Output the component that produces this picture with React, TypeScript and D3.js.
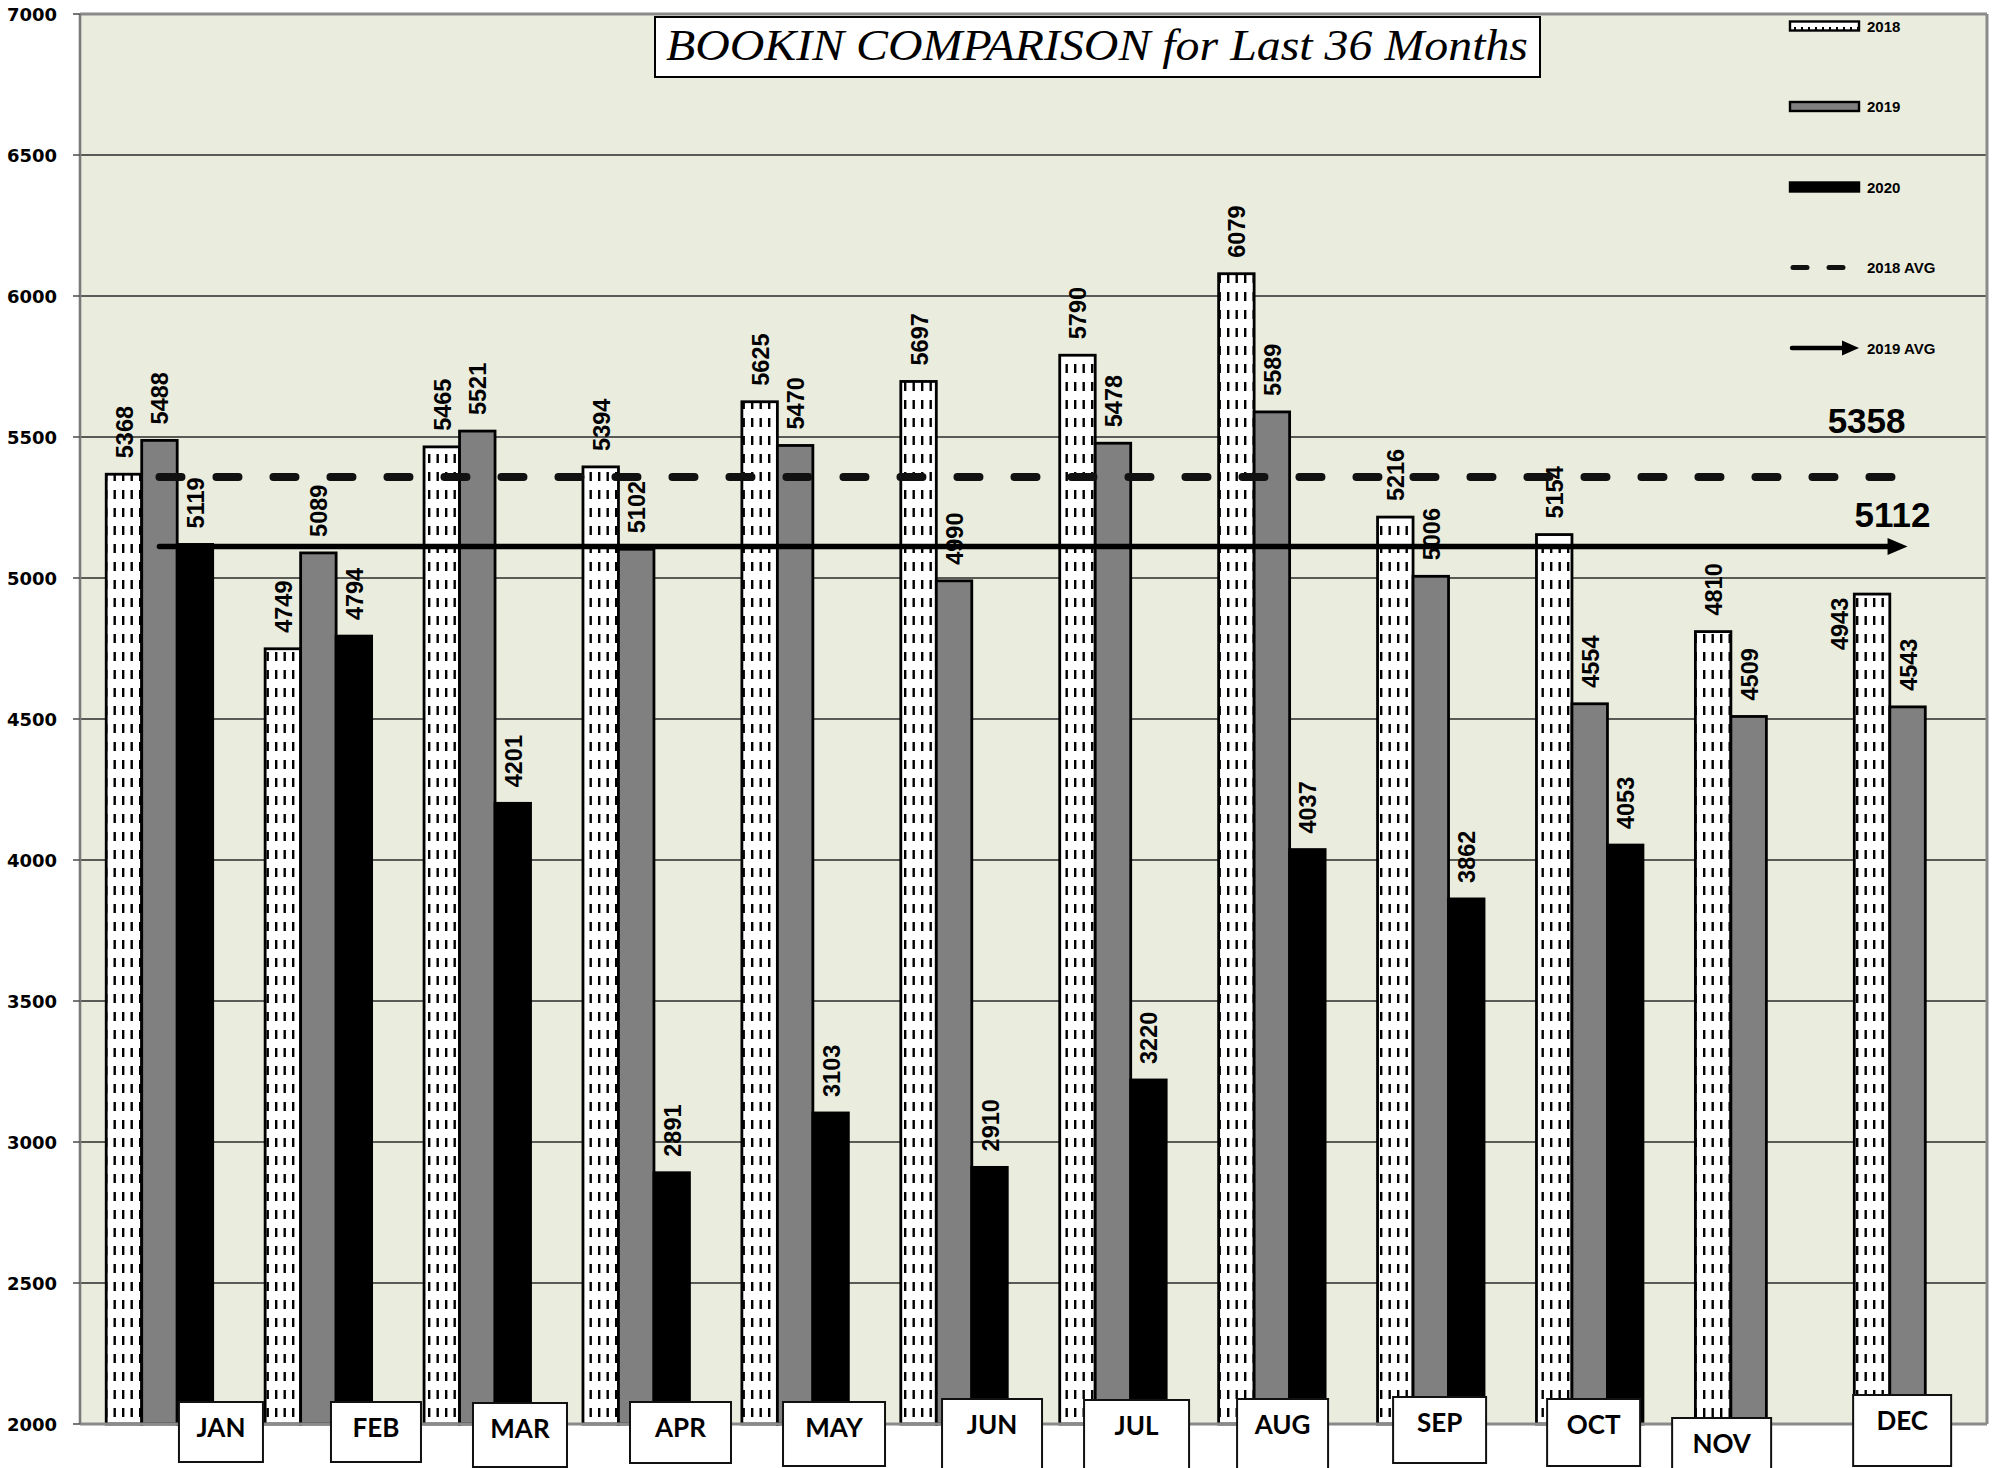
import React, { useEffect } from 'react';
import * as d3 from 'd3';

// chart values
const months = ['JAN', 'FEB', 'MAR', 'APR', 'MAY', 'JUN', 'JUL', 'AUG', 'SEP', 'OCT', 'NOV', 'DEC'];
const seriesKeys = ['2018', '2019', '2020'];
const bookins2018 = [5368, 4749, 5465, 5394, 5625, 5697, 5790, 6079, 5216, 5154, 4810, 4943];
const bookins2019 = [5488, 5089, 5521, 5102, 5470, 4990, 5478, 5589, 5006, 4554, 4509, 4543];
const bookins2020 = [5119, 4794, 4201, 2891, 3103, 2910, 3220, 4037, 3862, 4053];
const avg2018 = 5358;
const avg2019 = 5112;
const yTicks = [2000, 2500, 3000, 3500, 4000, 4500, 5000, 5500, 6000, 6500, 7000];
const legendLabels = ['2018', '2019', '2020', '2018 AVG', '2019 AVG'];

// hand placed month label boxes: [dx of box centre from group centre, top, width, height]
const monthBoxLayout = [
  [61.5, 1402, 84, 60], [57.6, 1402, 90, 60], [42.7, 1403, 94, 64], [44.3, 1402, 101, 61],
  [38.9, 1402, 102, 64], [38, 1399, 100, 90], [23.6, 1400, 105, 90], [10.7, 1399, 91, 90],
  [8.8, 1397, 93, 66], [3.9, 1399, 93, 67], [-27, 1418, 99, 80], [-5.4, 1395, 98, 71],
];
// one label Excel pushed aside of its bar
const labelNudge: Record<string, [number, number]> = { 'DEC-2018': [-33, 72] };

const W = 2000;
const H = 1468;
const margin = { top: 14, right: 13, bottom: 44, left: 80 };
const plotR = W - margin.right;
const plotB = H - margin.bottom;

const barFont = '"Liberation Sans", Arial, sans-serif';

const App = () => {
  useEffect(() => {
    document.body.style.margin = '0';
    document.body.style.overflow = 'hidden';
  }, []);

  const x0 = d3.scaleBand<string>()
    .domain(months)
    .range([margin.left, plotR])
    .paddingInner(0.33)
    .paddingOuter(0.165);

  const x1 = d3.scaleBand<string>()
    .domain(seriesKeys)
    .range([0, x0.bandwidth()]);

  const y = d3.scaleLinear().domain([2000, 7000]).range([plotB, margin.top]);

  const seriesData: Record<string, number[]> = {
    '2018': bookins2018,
    '2019': bookins2019,
    '2020': bookins2020,
  };
  const fills: Record<string, string> = { '2018': 'url(#dash2018)', '2019': '#808080', '2020': '#000' };

  const bars = seriesKeys.flatMap(key =>
    seriesData[key].map((v, i) => ({ key, month: months[i], value: v }))
  );

  const center = (m: string) => (x0(m) as number) + x0.bandwidth() / 2;
  const xStart = center(months[0]);
  const xEnd = center(months[months.length - 1]);

  const legendY = d3.scalePoint<string>().domain(legendLabels).range([26, 348]);
  const lgX = 1790;
  const lgW = 69;

  return (
    <svg width={W} height={H} style={{ position: 'absolute', left: 0, top: 0, background: '#fff' }}>
      <defs>
        <pattern id="dash2018" patternUnits="userSpaceOnUse" width="17" height="18">
          <rect width="17" height="18" fill="#fff" />
          <rect x="3" y="4" width="2.4" height="9" fill="#000" />
          <rect x="11.5" y="4" width="2.4" height="9" fill="#000" />
        </pattern>
        <pattern id="dashLegend" patternUnits="userSpaceOnUse" width="7" height="9">
          <rect width="7" height="9" fill="#fff" />
          <rect x="2" y="0" width="2" height="4" fill="#000" />
        </pattern>
      </defs>

      {/* plot background */}
      <rect x={margin.left} y={margin.top} width={plotR - margin.left} height={plotB - margin.top} fill="#EAEDDE" />

      {/* gridlines */}
      {yTicks.slice(1, -1).map(t => (
        <line key={t} x1={margin.left} x2={plotR} y1={y(t)} y2={y(t)} stroke="#2a2a2a" strokeWidth={1.6} />
      ))}

      {/* bars */}
      {bars.map(d => (
        <rect
          key={d.key + d.month}
          x={(x0(d.month) as number) + (x1(d.key) as number)}
          y={y(d.value)}
          width={x1.bandwidth()}
          height={plotB - y(d.value)}
          fill={fills[d.key]}
          stroke="#000"
          strokeWidth={2.8}
        />
      ))}

      {/* value labels */}
      {bars.map(d => {
        const [ndx, ndy] = labelNudge[d.month + '-' + d.key] || [0, 0];
        const bx = (x0(d.month) as number) + (x1(d.key) as number) + x1.bandwidth() / 2 + 1 + ndx;
        const by = y(d.value) - 16 + ndy;
        return (
          <text
            key={'l' + d.key + d.month}
            transform={`translate(${bx},${by}) rotate(-90)`}
            textAnchor="start"
            dominantBaseline="central"
            fontFamily={barFont}
            fontWeight="bold"
            fontSize={23.5}
            fill="#000"
          >
            {d.value}
          </text>
        );
      })}

      {/* averages */}
      <line
        x1={xStart} x2={xEnd} y1={y(avg2018)} y2={y(avg2018)}
        stroke="#111" strokeWidth={8} strokeLinecap="round" strokeDasharray="22 35"
      />
      <line x1={xStart} x2={xEnd - 18} y1={y(avg2019)} y2={y(avg2019)} stroke="#000" strokeWidth={5.5} strokeLinecap="round" />
      <path
        d={`M${xEnd},${y(avg2019)} L${xEnd - 20},${y(avg2019) - 8.5} L${xEnd - 20},${y(avg2019) + 8.5} Z`}
        fill="#000"
      />
      <text x={xEnd - 2} y={y(avg2018) - 44} textAnchor="end" fontFamily={barFont} fontWeight="bold" fontSize={35}>
        {avg2018}
      </text>
      <text x={xEnd + 23} y={y(avg2019) - 19} textAnchor="end" fontFamily={barFont} fontWeight="bold" fontSize={35}>
        {avg2019}
      </text>

      {/* frame and axis */}
      <line x1={margin.left} x2={plotR} y1={margin.top} y2={margin.top} stroke="#8a8a8a" strokeWidth={3} />
      <line x1={plotR} x2={plotR} y1={margin.top} y2={plotB} stroke="#8a8a8a" strokeWidth={3} />
      <line x1={margin.left} x2={plotR} y1={plotB} y2={plotB} stroke="#8a8a8a" strokeWidth={3} />
      <line x1={margin.left} x2={margin.left} y1={margin.top} y2={plotB} stroke="#7a7a7a" strokeWidth={2.6} />
      {yTicks.map(t => (
        <g key={'t' + t}>
          <line x1={margin.left - 7} x2={margin.left} y1={y(t)} y2={y(t)} stroke="#555" strokeWidth={1.6} />
          <text
            x={57}
            y={y(t)}
            textAnchor="end"
            dominantBaseline="central"
            fontFamily='"DejaVu Sans", Verdana, sans-serif'
            fontWeight="bold"
            fontSize={18}
          >
            {t}
          </text>
        </g>
      ))}

      {/* month label boxes */}
      {months.map((m, i) => {
        const [dx, top, w, h] = monthBoxLayout[i];
        const cx = center(m) + dx;
        return (
          <g key={'m' + m}>
            <rect x={cx - w / 2} y={top} width={w} height={h} fill="#fff" stroke="#111" strokeWidth={2} />
            <text
              x={cx}
              y={top + 35}
              textAnchor="middle"
              fontFamily="Lato, 'Open Sans', sans-serif"
              fontWeight="bold"
              fontSize={26}
            >
              {m}
            </text>
          </g>
        );
      })}

      {/* title */}
      <rect x={655} y={17} width={885} height={60} fill="#fff" stroke="#000" strokeWidth={2} />
      <text
        x={666}
        y={60}
        textLength={862}
        lengthAdjust="spacingAndGlyphs"
        fontFamily='"Liberation Serif", "DejaVu Serif", serif'
        fontStyle="italic"
        fontSize={45}
      >
        BOOKIN COMPARISON for Last 36 Months
      </text>

      {/* legend */}
      {legendLabels.map((lab, i) => {
        const ly = legendY(lab) as number;
        let swatch: React.ReactNode;
        if (i < 3) {
          const f = i === 0 ? 'url(#dashLegend)' : i === 1 ? '#808080' : '#000';
          swatch = <rect x={lgX} y={ly - 4.5} width={lgW} height={9} fill={f} stroke="#000" strokeWidth={2.4} />;
        } else if (i === 3) {
          swatch = (
            <line x1={lgX + 3} x2={lgX + 56} y1={ly} y2={ly} stroke="#111" strokeWidth={5}
              strokeLinecap="round" strokeDasharray="14 22" />
          );
        } else {
          swatch = (
            <g>
              <line x1={lgX + 2} x2={lgX + 54} y1={ly} y2={ly} stroke="#000" strokeWidth={4.5} strokeLinecap="round" />
              <path d={`M${lgX + 69},${ly} L${lgX + 52},${ly - 7.5} L${lgX + 52},${ly + 7.5} Z`} fill="#000" />
            </g>
          );
        }
        return (
          <g key={'lg' + lab}>
            {swatch}
            <text x={1867} y={ly} dominantBaseline="central" fontFamily={barFont} fontWeight="bold" fontSize={15}>
              {lab}
            </text>
          </g>
        );
      })}
    </svg>
  );
};

export default App;
